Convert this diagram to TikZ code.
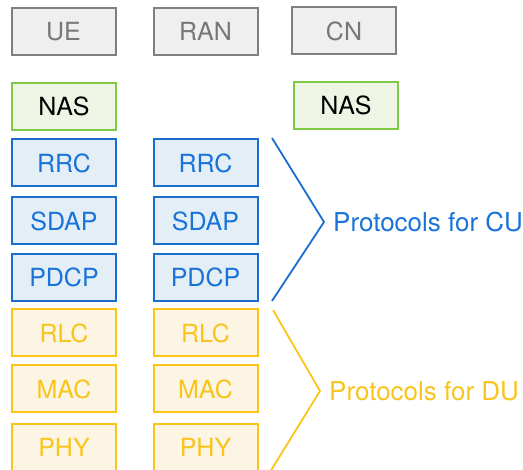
\documentclass[tikz,border=0pt]{standalone}
\usepackage{fontspec}
\setmainfont{TeX Gyre Heros}
\definecolor{grayB}{HTML}{808080}
\definecolor{grayF}{HTML}{EFEFEF}
\definecolor{grayT}{HTML}{777777}
\definecolor{greenB}{HTML}{7DCB45}
\definecolor{greenF}{HTML}{EEF5E4}
\definecolor{blueB}{HTML}{1A6FCE}
\definecolor{blueF}{HTML}{E3EEF7}
\definecolor{blueT}{HTML}{1A73D9}
\definecolor{yelB}{HTML}{FCC419}
\definecolor{yelF}{HTML}{FCF5E3}
\definecolor{yelT}{HTML}{F9C41C}
\begin{document}
\begin{tikzpicture}[x=1pt,y=-1pt,
  box/.style={draw,line width=2pt,minimum width=104pt,minimum height=47pt,inner sep=0pt,font=\fontsize{25}{28}\selectfont},
  hdr/.style={box,draw=grayB,fill=grayF,text=grayT},
  nas/.style={box,draw=greenB,fill=greenF,text=black},
  cu/.style={box,draw=blueB,fill=blueF,text=blueT},
  du/.style={box,draw=yelB,fill=yelF,text=yelT},
  lbl/.style={anchor=west,inner sep=0pt,font=\fontsize{26}{29}\selectfont},
  brk/.style={line width=1.8pt}]
\clip (0,0) rectangle (523,470);
\fill[white] (0,0) rectangle (523,470);
% headers
\node[hdr] (ue) at (63.5,31.5) {UE};
\node[hdr] (ran) at (205.5,31.5) {RAN};
\node[hdr] (cn) at (344,31) {CN};
% NAS
\node[nas] (nas1) at (64,106.5) {NAS};
\node[nas] (nas2) at (346,105.5) {NAS};
% CU protocols
\node[cu] (rrc1) at (64,163) {RRC};
\node[cu] (rrc2) at (205.5,163) {RRC};
\node[cu] (sdap1) at (64,221) {SDAP};
\node[cu] (sdap2) at (205.5,221) {SDAP};
\node[cu] (pdcp1) at (64,277.5) {PDCP};
\node[cu] (pdcp2) at (205.5,277.5) {PDCP};
% DU protocols
\node[du] (rlc1) at (64,333) {RLC};
\node[du] (rlc2) at (205.5,333) {RLC};
\node[du] (mac1) at (64,389) {MAC};
\node[du] (mac2) at (205.5,389) {MAC};
\node[du] (phy1) at (64,447.5) {PHY};
\node[du] (phy2) at (205.5,447.5) {PHY};
% labels
\node[lbl,text=blueT] (cul) at (333,222) {Protocols for CU};
\node[lbl,text=yelT] (dul) at (329,391) {Protocols for DU};
% brackets
\coordinate (cuTop) at (272,138);
\coordinate (cuTip) at (324,222);
\coordinate (cuBot) at (272,301);
\coordinate (duTop) at (273,310);
\coordinate (duTip) at (320,391);
\coordinate (duBot) at (270,472);
\draw[brk,draw=blueB] (cuTop) -- (cuTip) -- (cuBot);
\draw[brk,draw=yelB] (duTop) -- (duTip) -- (duBot);
\end{tikzpicture}
\end{document}
